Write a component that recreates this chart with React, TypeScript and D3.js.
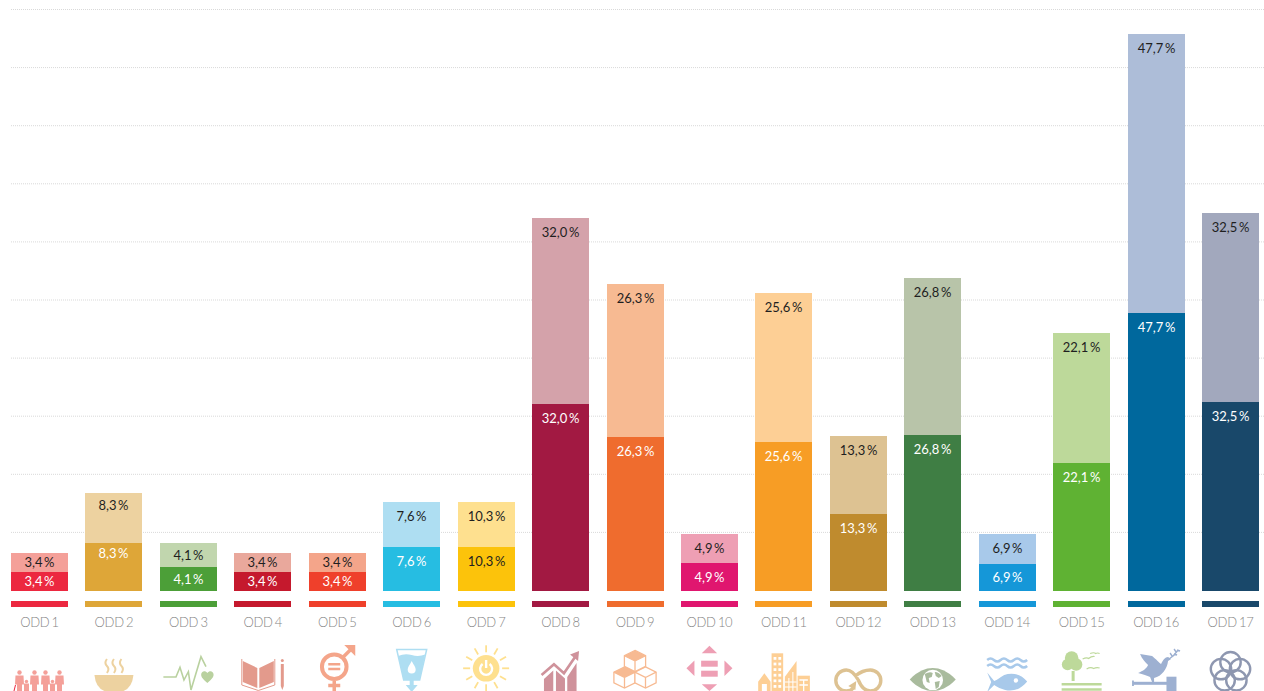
import React from "react";
import * as d3 from "d3";

const categories = ["ODD 1", "ODD 2", "ODD 3", "ODD 4", "ODD 5", "ODD 6", "ODD 7", "ODD 8", "ODD 9", "ODD 10", "ODD 11", "ODD 12", "ODD 13", "ODD 14", "ODD 15", "ODD 16", "ODD 17"];
// printed labels; a few do not agree with the drawn bar (ODD 7, ODD 14), as in the source
const labels = [3.4, 8.3, 4.1, 3.4, 3.4, 7.6, 10.3, 32.0, 26.3, 4.9, 25.6, 13.3, 26.8, 6.9, 22.1, 47.7, 32.5];
const lowerValues = [3.26, 8.23, 4.1, 3.26, 3.26, 7.54, 7.54, 32.05, 26.4, 4.8, 25.5, 13.2, 26.7, 4.6, 21.9, 47.6, 32.4];
const upperValues = [3.26, 8.57, 4.1, 3.26, 3.26, 7.7, 7.7, 31.9, 26.2, 4.97, 25.5, 13.4, 26.9, 5.1, 22.3, 47.8, 32.4];
const lowerColors = ["#ec2840", "#dea638", "#4c9f38", "#c5192d", "#ef402b", "#26bde2", "#fcc30b", "#a21942", "#ef6c2e", "#e0166f", "#f79d25", "#bf8b2e", "#3f7e44", "#1597d8", "#5fb233", "#00689d", "#19486a"];
const upperColors = ["#f4a099", "#edd2a0", "#c1d6ae", "#e9a89c", "#f4a58a", "#aedef2", "#fee08f", "#d4a2aa", "#f7ba92", "#ee9fb4", "#fdcf95", "#ddc292", "#b8c4a9", "#a8c9ea", "#bdd99a", "#adbdd8", "#a2a8bd"];
const gridValues = [10, 20, 30, 40, 50, 60, 70, 80, 90, 100];

const WIDTH = 1264;
const HEIGHT = 691;
const FONT = "Lato, 'Noto Sans', sans-serif";

const x = d3.scaleBand<string>().domain(categories).range([11, 1259]).paddingInner(0.2344);
// bars sit on a slightly tighter scale than the grid
const y = d3.scaleLinear().domain([0, 100]).range([591, 7.5]);
const gridY = d3.scaleLinear().domain([0, 100]).range([590.5, 9.5]);

const fmt = (v: number) => v.toFixed(1).replace(".", ",") + "\u2009%";

// --- icons, drawn around the bar centre; y runs from the top of the icon row ---

function People({ c }: { c: string }) {
  const tall = [-20, -5, 6, 20];
  const kids = [-13, 13];
  return (
    <g fill={c}>
      {tall.map((px) => (
        <g key={px}>
          <circle cx={px} cy={37.5} r={2.2} />
          <path d={`M${px - 4} 40.5h8l.5 9h-2v7.5h-5v-7.5h-2z`} />
        </g>
      ))}
      {kids.map((px) => (
        <g key={px}>
          <circle cx={px} cy={46.5} r={1.7} />
          <path d={`M${px - 2.5} 48.5h5v8.5h-5z`} />
        </g>
      ))}
      <path d="M-25.5 56l1.5-6" stroke="#ec2840" strokeWidth={1} fill="none" />
    </g>
  );
}

function Bowl({ c }: { c: string }) {
  return (
    <g>
      <path d="M-19.5 40H19.5Q18 55 6 57H-6Q-18 55-19.5 40Z" fill={c} />
      {[-7, 0, 7.5].map((px) => (
        <path key={px} d={`M${px} 24q-3 4 0 7t0 7`} fill="none" stroke={c} strokeWidth={2} />
      ))}
    </g>
  );
}

function Pulse({ c }: { c: string }) {
  return (
    <g>
      <path d="M-25 42H-12.4L-8.4 32.3-4.4 45 0 36.7 2.6 55 12.6 21.7 17.6 31.7" fill="none" stroke={c} strokeWidth={1.6} />
      <path d="M19 48C14 44 12.8 42 12.8 39.6 12.8 36 17 35 19 38 21 35 25.2 36 25.2 39.6 25.2 42 24 44 19 48Z" fill={c} />
    </g>
  );
}

function Book({ c }: { c: string }) {
  return (
    <g fill={c}>
      <path d="M-20 26L-5.5 33V53L-20 47ZM-3.5 33L11 26V47L-3.5 53Z" />
      <path d="M-21 24V50L-4.5 55.5 12 50V24" fill="none" stroke={c} strokeWidth={1} />
      <circle cx={19.5} cy={25.5} r={1.5} />
      <path d="M18 29H21V51L19.5 55 18 51Z" />
    </g>
  );
}

function Gender({ c }: { c: string }) {
  return (
    <g fill="none" stroke={c}>
      <circle cx={-3} cy={31.7} r={12.3} strokeWidth={4} />
      <path d="M6 22L15 13" strokeWidth={3.5} />
      <path d="M7 10H18V21L14 17 10 13Z" fill={c} stroke="none" />
      <path d="M-9 29.3H3M-9 34H3" strokeWidth={2.5} />
      <path d="M-3 46V57M-9 50.5H3" strokeWidth={3.5} />
    </g>
  );
}

function Water({ c }: { c: string }) {
  return (
    <g fill={c}>
      <path d="M-15 14.5H15L8 45H-8Z" fill="none" stroke={c} strokeWidth={1.5} />
      <path d="M-13.5 21Q-7 18 0 20T13.5 19.5L8 45H-8Z" />
      <path d="M0 26C-2 30-4 32-4 34.5A4 4 0 0 0 4 34.5C4 32 2 30 0 26Z" fill="#fff" />
      <path d="M-2 45H2V50H6L0 57-6 50H-2Z" />
    </g>
  );
}

function Sun({ c }: { c: string }) {
  const rays = d3.range(12).map((i) => (i * Math.PI) / 6);
  const cy = 33.3;
  return (
    <g>
      <circle cy={cy} r={13.3} fill={c} />
      {rays.map((a) => (
        <line key={a} x1={16 * Math.sin(a)} y1={cy - 16 * Math.cos(a)} x2={23 * Math.sin(a)} y2={cy - 23 * Math.cos(a)} stroke={c} strokeWidth={1.8} />
      ))}
      <path d="M-3.5 29A6 6 0 1 0 3.5 29" fill="none" stroke="#fff" strokeWidth={2.4} />
      <path d="M0 25V33" stroke="#fff" strokeWidth={2.4} />
    </g>
  );
}

function Growth({ c }: { c: string }) {
  return (
    <g>
      <path d="M-16.6 44L-7.3 35.5V57H-16.6ZM-4.6 35.5L4.4 43.5V57H-4.6ZM6.7 42L16 28V57H6.7Z" fill={c} />
      <path d="M-19 40L-6.6 29.3 3.4 38.3 14.5 22" fill="none" stroke={c} strokeWidth={2.6} />
      <path d="M9.5 19.5L18.5 16 17.5 26Z" fill={c} />
    </g>
  );
}

function Cubes({ c }: { c: string }) {
  const s = 10.6;
  const h = s / 2;
  const w = s;
  const cube = (cx: number, cy: number, k: string, topFill: boolean) => (
    <g key={k} transform={`translate(${cx},${cy})`}>
      <path d={`M0 ${-s}L${w} ${-h}V${h}L0 ${s}L${-w} ${h}V${-h}Z`} fill="#fff" stroke={c} strokeWidth={1.3} />
      {topFill ? <path d={`M0 ${-s}L${w} ${-h}L0 0L${-w} ${-h}Z`} fill={c} /> : null}
      <path d={`M${-w} ${-h}L0 0V${s}M0 0L${w} ${-h}`} fill="none" stroke={c} strokeWidth={1.3} />
    </g>
  );
  return (
    <g>
      {cube(-10.5, 42.5, "l", true)}
      {cube(10.5, 42.5, "r", false)}
      {cube(0, 26, "t", true)}
    </g>
  );
}

function Arrows({ c }: { c: string }) {
  return (
    <g fill={c}>
      <path d="M0 10.7L7.7 18.3H-7.7ZM0 56L7.7 49.3H-7.7ZM-23 33.3L-15 25.6V41ZM23 33.3L15 25.6V41Z" />
      <rect x={-8.3} y={25.7} width={16.6} height={6} />
      <rect x={-8.3} y={35.7} width={16.6} height={6} />
    </g>
  );
}

function City({ c }: { c: string }) {
  const rows = d3.range(6);
  return (
    <g fill={c}>
      <path d="M-12.3 18.3H-.7V57H-12.3Z" />
      {rows.map((r) => (
        <g key={r} fill="#fff">
          <rect x={-10.3} y={22 + r * 5.6} width={2.8} height={2.8} />
          <rect x={-5.5} y={22 + r * 5.6} width={2.8} height={2.8} />
        </g>
      ))}
      <path d="M-19.5 38.3L-25.7 46.7V57H-13.3V46.7Z" />
      <rect x={-22} y={49} width={5} height={8} fill="#fff" />
      <path d="M1 41.7L12.7 26V57H1Z" />
      <path d="M5 43V57M9 37V57M1 47H12.7M1 52H12.7" stroke="#fff" strokeWidth={1} fill="none" />
      <path d="M13.7 40.7H26V57H13.7Z" />
      <path d="M15.5 45H24M15.5 50H24M19.8 45V57" stroke="#fff" strokeWidth={1.3} fill="none" />
    </g>
  );
}

function Infinity8({ c }: { c: string }) {
  return (
    <g>
      <path d="M-3 41C3 36 7 35 12 35A10.5 10.5 0 0 1 12 56C6 56 2 50 0 45C-4 38-8 35-12 35A10.5 10.5 0 0 0-12 56C-10 56-7 55.5-5 53" fill="none" stroke={c} strokeWidth={3.4} />
      <path d="M-10 51L-2 46-3 55Z" fill={c} />
    </g>
  );
}

function Eye({ c }: { c: string }) {
  return (
    <g>
      <path d="M-23 44.5C-15 36-7 33 0 33S15 36 23 44.5C15 53 7 56 0 56S-15 53-23 44.5Z" fill={c} />
      <circle cy={45} r={10.3} fill="#fff" />
      <path d="M-8 39Q-3 36 0 38L-1 42-4 43-3 48-6 47ZM2 37Q6 37 9 41L6 43 3 41ZM2 47L7 46 6 52 3 54Z" fill={c} />
    </g>
  );
}

function Fish({ c }: { c: string }) {
  const wave = (yy: number) => `M-20 ${yy}q3.3-3 6.7 0t6.7 0 6.6 0 6.7 0 6.6 0 6.7 0`;
  return (
    <g>
      <path d={wave(25)} fill="none" stroke={c} strokeWidth={2.4} />
      <path d={wave(31)} fill="none" stroke={c} strokeWidth={2.4} />
      <path d="M20 46.5C14 39 5 37-3 40C-7 42-10 45-13 46L-20 37.5-16 47-20 57-13 50C-10 52-6 54-2 55C6 57 14 54 20 46.5Z" fill={c} />
      <circle cx={8.7} cy={45.5} r={2.2} fill="#fff" />
    </g>
  );
}

function Tree({ c }: { c: string }) {
  return (
    <g>
      <path d="M-20 49.3H20M-20 54.5H20" stroke={c} strokeWidth={2.6} fill="none" />
      <rect x={-10} y={36} width={3} height={10} fill={c} />
      <circle cx={-10} cy={23} r={6.8} fill={c} />
      <circle cx={-14} cy={29.5} r={5.8} fill={c} />
      <circle cx={-5.5} cy={29.5} r={6.2} fill={c} />
      <path d="M1 24q4-2 6-.5 3-2.5 6-2M8.5 18.5q4-1.5 5.5 0 2-1 4 0M5 34q4-2.5 7-.5 3-1.5 6-.5" fill="none" stroke={c} strokeWidth={1.2} />
    </g>
  );
}

function Dove({ c }: { c: string }) {
  return (
    <g>
      <path d="M-16 19L-4 21C0 24 3 28 5 29 7 25 9 22 12 22L15 24 12 26C11 34 6 41-2 43L-2 47H-4L-6 42C-9 41-13 39-18 38-13 36-9 33-8 30-11 27-14 24-16 19Z" fill={c} />
      <path d="M13 24Q18 21 22 15M16 21l-2-3M18 19l3 1M20 17l-2-3M21 15l3 1" fill="none" stroke={c} strokeWidth={1.4} />
      <rect x={-23} y={46.8} width={34} height={3} fill={c} />
      <rect x={-24} y={45.5} width={1.8} height={5.5} fill={c} />
      <rect x={10.4} y={41.7} width={10} height={15.3} fill={c} />
    </g>
  );
}

function Flower({ c }: { c: string }) {
  const petals = d3.range(5).map((i) => (i * 2 * Math.PI) / 5);
  return (
    <g fill="none" stroke={c} strokeWidth={2.4}>
      {petals.map((a) => (
        <circle key={a} cx={10 * Math.sin(a)} cy={37.2 - 10 * Math.cos(a)} r={10.2} />
      ))}
    </g>
  );
}

const icons: [React.ComponentType<{ c: string }>, string][] = [
  [People, "#f4a099"],
  [Bowl, "#edd2a0"],
  [Pulse, "#b9d19f"],
  [Book, "#e39a8c"],
  [Gender, "#f4a58a"],
  [Water, "#aedef2"],
  [Sun, "#fee08f"],
  [Growth, "#cf929b"],
  [Cubes, "#f7ba92"],
  [Arrows, "#ee9fb4"],
  [City, "#fdcf95"],
  [Infinity8, "#ddc292"],
  [Eye, "#a9bb9d"],
  [Fish, "#a8c9ea"],
  [Tree, "#bdd99a"],
  [Dove, "#9db0d1"],
  [Flower, "#8e97b0"],
];

function Segment({ cat, from, to, fill, textFill, value, nudge = 0 }: { cat: string; from: number; to: number; fill: string; textFill: string; value: number; nudge?: number }) {
  const left = Math.round(x(cat)!);
  const top = Math.round(y(to));
  const bottom = Math.round(y(from));
  const h = bottom - top;
  return (
    <g>
      <rect x={left} y={top} width={57} height={h} fill={fill} />
      <text x={left + 28.5} y={top + Math.min(h / 2, 14) + nudge} dy="0.35em" textAnchor="middle" fontSize={13} fill={textFill}>
        {fmt(value)}
      </text>
    </g>
  );
}

export default function App() {
  return (
    <svg width={WIDTH} height={HEIGHT} viewBox={`0 0 ${WIDTH} ${HEIGHT}`} style={{ position: "absolute", left: 0, top: 0, display: "block", background: "#fff" }} fontFamily={FONT}>
      {gridValues.map((v) => (
        <line key={v} x1={11} x2={WIDTH} y1={gridY(v)} y2={gridY(v)} stroke="#d9d9d9" strokeWidth={1} strokeDasharray="1 1" />
      ))}
      {categories.map((cat, i) => {
        const lo = lowerValues[i];
        const left = Math.round(x(cat)!);
        const cx = x(cat)! + x.bandwidth() / 2;
        const [Icon, iconColor] = icons[i];
        const isOdd2 = cat === "ODD 2";
        return (
          <g key={cat}>
            <Segment cat={cat} from={lo} to={lo + upperValues[i]} fill={upperColors[i]} textFill="#1f1f1f" value={labels[i]} nudge={isOdd2 ? -2 : 0} />
            <Segment cat={cat} from={0} to={lo} fill={lowerColors[i]} textFill={cat === "ODD 7" ? "#1f1f1f" : "#fff"} value={labels[i]} nudge={isOdd2 ? -4 : 0} />
            <rect x={left} y={601} width={57} height={6} fill={lowerColors[i]} />
            <text x={cx} y={622} dy="0.35em" textAnchor="middle" fontSize={13} fontWeight={300} letterSpacing={-0.3} wordSpacing={-1} fill="#858585">
              {cat}
            </text>
            <g transform={`translate(${cx},635)`}>
              <Icon c={iconColor} />
            </g>
          </g>
        );
      })}
    </svg>
  );
}
